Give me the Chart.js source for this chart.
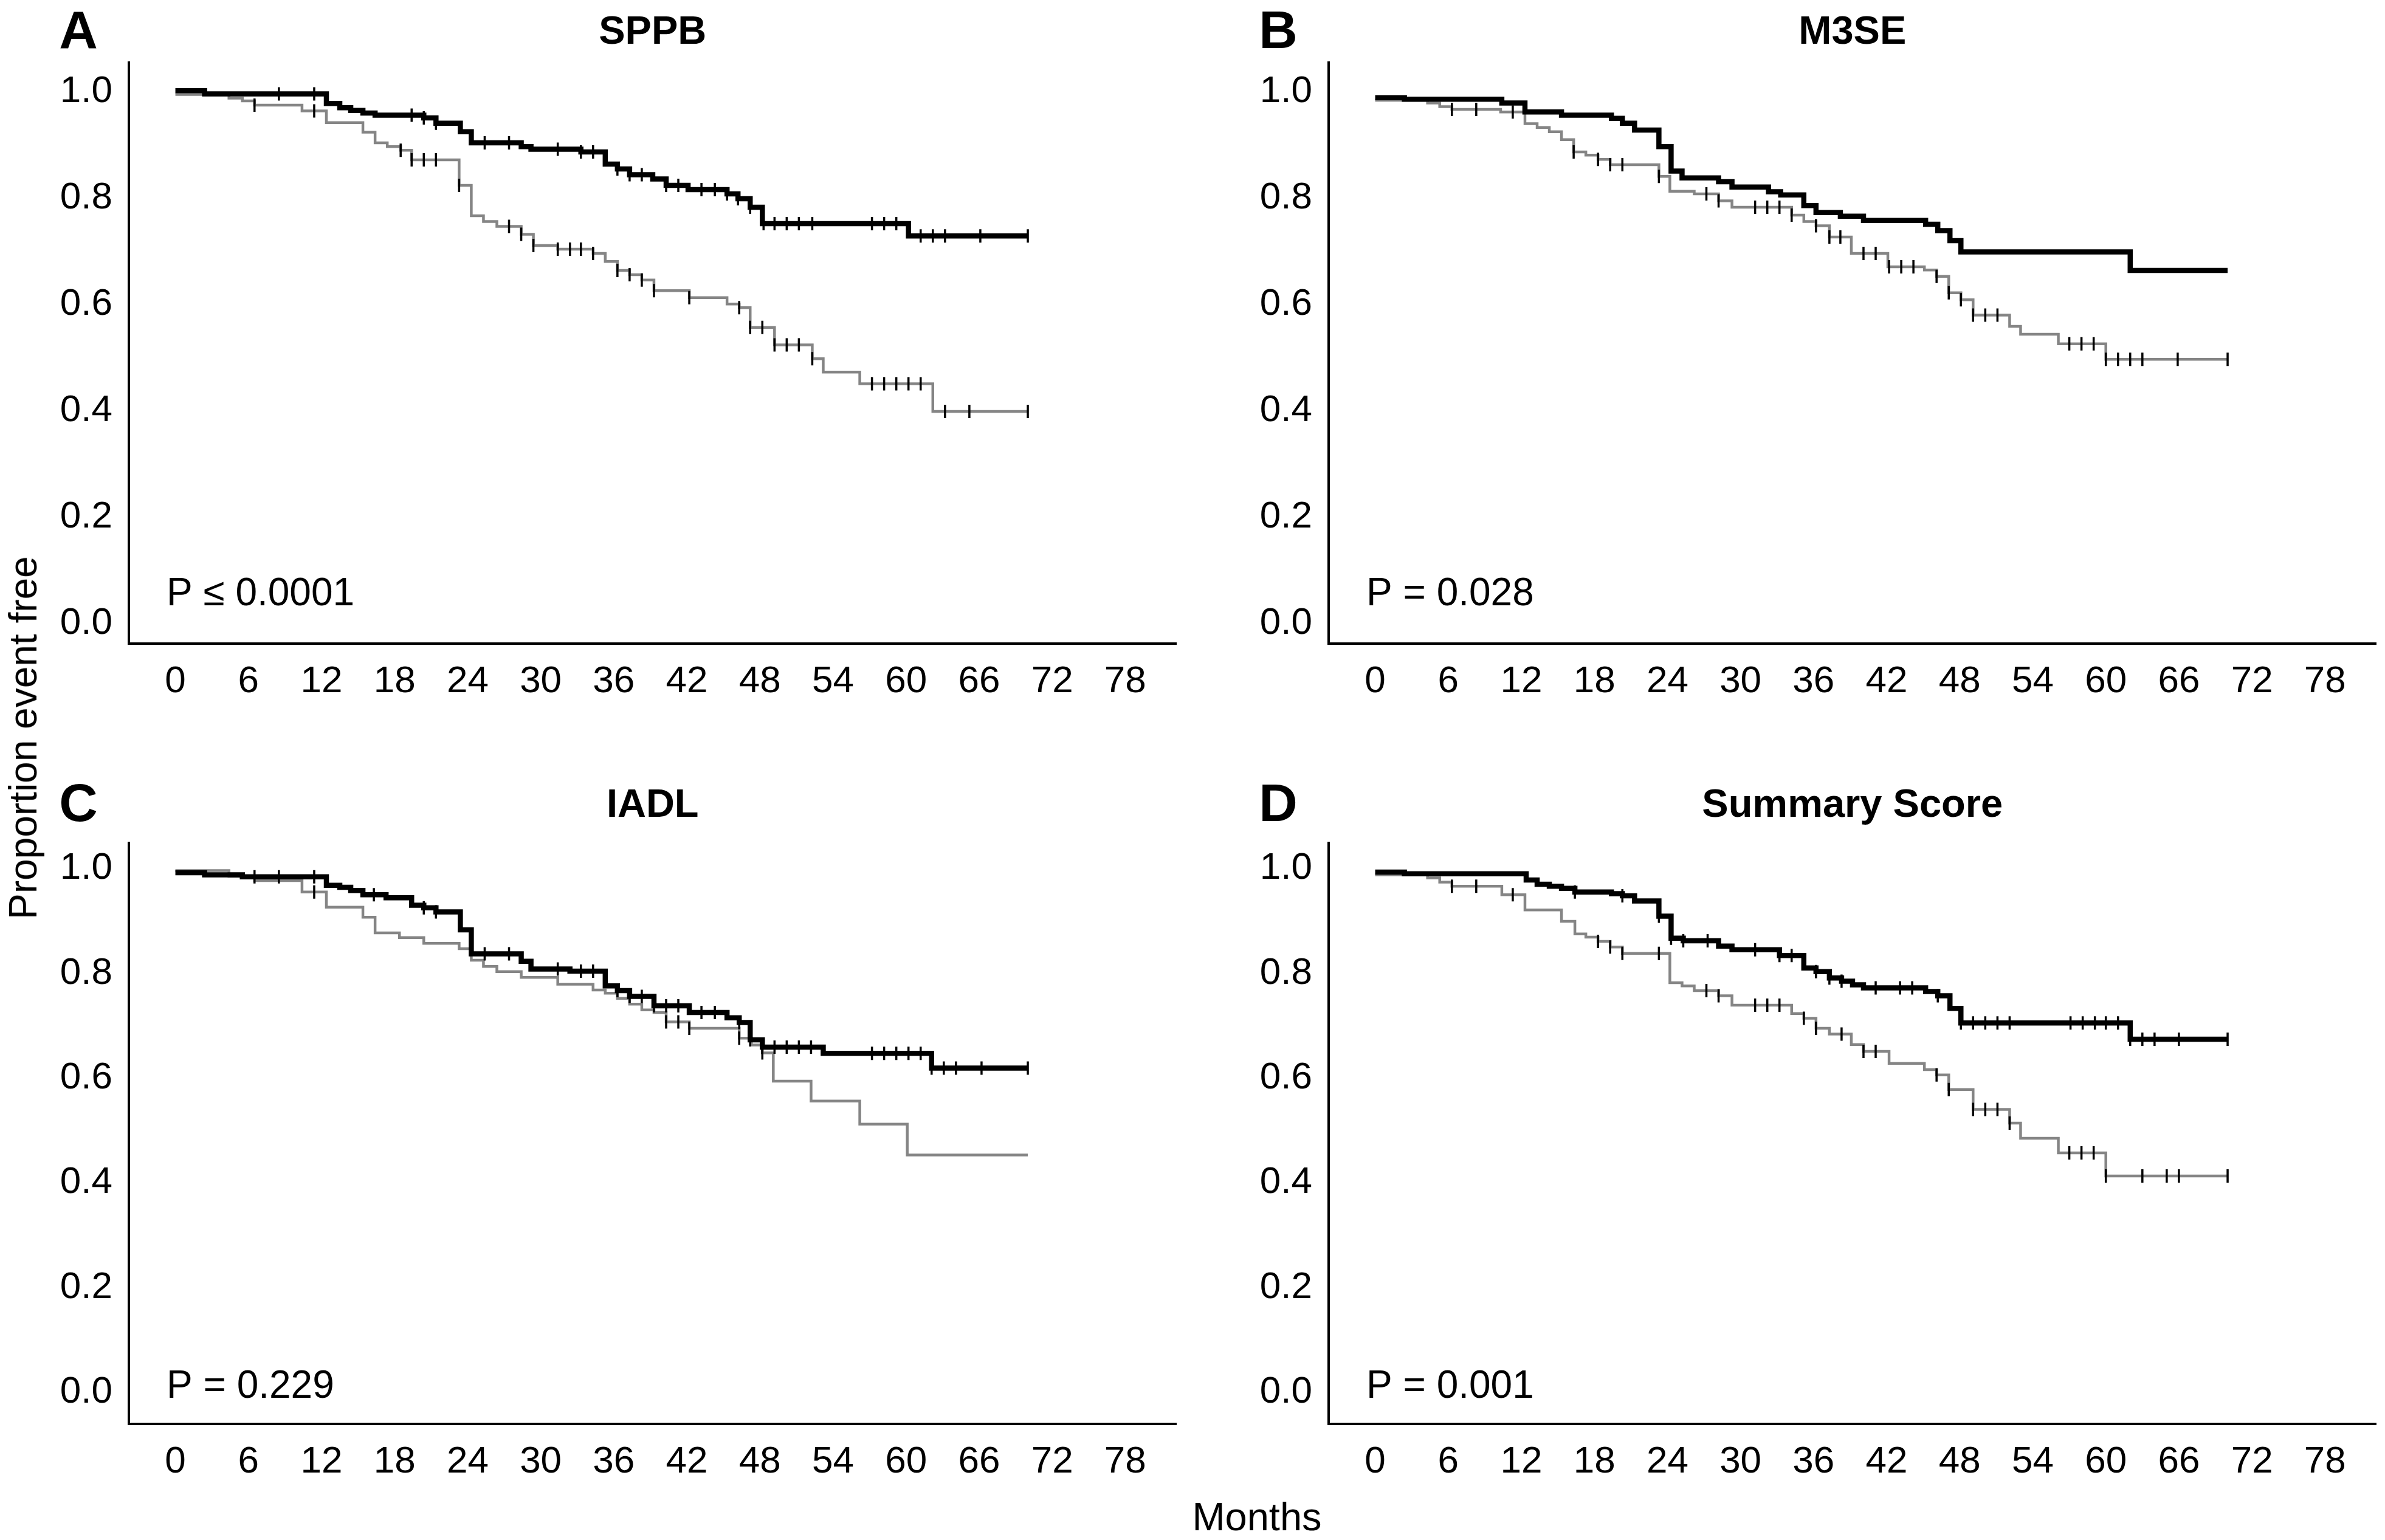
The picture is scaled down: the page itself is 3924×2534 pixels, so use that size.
<!DOCTYPE html>
<html>
<head>
<meta charset="utf-8">
<script src="https://cdn.jsdelivr.net/npm/chart.js@4/dist/chart.umd.min.js"></script>
<style>
  html, body { margin: 0; padding: 0; background: #fff; }
  #fig { position: relative; width: 3924px; height: 2534px; overflow: hidden; font-family: "Liberation Sans", Arial, sans-serif; }
  .panel { position: absolute; width: 1950px; height: 1200px; }
  #ylab { position: absolute; left: 38px; top: 1214px; font-size: 64px; line-height: 1; white-space: nowrap;
          transform: translate(-50%, -50%) rotate(-90deg); }
  #xlab { position: absolute; left: 2068px; top: 2463px; font-size: 65px; line-height: 1; white-space: nowrap;
          transform: translateX(-50%); }
</style>
</head>
<body>
<div id="fig">
  <div class="panel" style="left:0;top:0"><canvas id="pA" width="1950" height="1200"></canvas></div>
  <div class="panel" style="left:1974px;top:0"><canvas id="pB" width="1950" height="1200"></canvas></div>
  <div class="panel" style="left:0;top:1284px"><canvas id="pC" width="1950" height="1200"></canvas></div>
  <div class="panel" style="left:1974px;top:1284px"><canvas id="pD" width="1950" height="1200"></canvas></div>
  <div id="ylab">Proportion event free</div>
  <div id="xlab">Months</div>
</div>

<script>
// Ejes
const monthTicks = [0, 6, 12, 18, 24, 30, 36, 42, 48, 54, 60, 66, 72, 78];
const propTicks = [0.0, 0.2, 0.4, 0.6, 0.8, 1.0];
const lastMonth = 70;

// A - SPPB (negro = curva superior, gris = curva inferior)
const sppbHiT = [0, 2.4, 12.4, 13.5, 14.4, 15.4, 16.4, 20.4, 21.4, 23.4, 24.3, 28.4, 29.2, 33.3, 35.3, 36.3, 37.3, 39.2, 40.3, 42.1, 45.3, 46.2, 47.2, 48.2, 60.2];
const sppbHiS = [0.995, 0.989, 0.971, 0.963, 0.958, 0.953, 0.949, 0.944, 0.934, 0.918, 0.897, 0.890, 0.885, 0.880, 0.857, 0.848, 0.837, 0.829, 0.817, 0.809, 0.801, 0.792, 0.776, 0.745, 0.722];
const sppbHiCens = [8.5, 11.4, 19.4, 20.4, 21.4, 25.4, 27.4, 31.4, 33.3, 34.3, 36.3, 37.3, 38.3, 40.3, 41.3, 43.2, 44.3, 45.3, 46.2, 47.2, 48.3, 49.2, 50.2, 51.2, 52.3, 57.2, 58.2, 59.2, 61.2, 62.2, 63.2, 66.1, 70];
const sppbLoT = [0, 4.4, 5.5, 6.5, 10.4, 12.4, 15.4, 16.4, 17.4, 18.5, 19.4, 23.3, 24.3, 25.3, 26.4, 28.4, 29.4, 31.4, 34.3, 35.3, 36.3, 37.3, 38.3, 39.3, 42.2, 45.3, 46.3, 47.2, 49.2, 52.3, 53.2, 56.2, 62.2];
const sppbLoS = [0.988, 0.981, 0.976, 0.968, 0.957, 0.935, 0.917, 0.897, 0.890, 0.883, 0.865, 0.817, 0.760, 0.749, 0.740, 0.725, 0.704, 0.697, 0.689, 0.674, 0.657, 0.649, 0.639, 0.619, 0.606, 0.594, 0.587, 0.550, 0.517, 0.491, 0.466, 0.444, 0.392];
const sppbLoCens = [6.5, 11.4, 18.5, 19.4, 20.4, 21.4, 23.3, 27.4, 28.4, 29.4, 31.4, 32.4, 33.3, 34.3, 36.3, 37.3, 38.3, 39.3, 42.2, 46.3, 47.2, 48.2, 49.2, 50.2, 51.2, 52.3, 57.2, 58.2, 59.2, 60.2, 61.2, 63.2, 65.2, 70];

// B - M3SE
const m3seHiT = [0, 2.4, 10.4, 12.3, 15.3, 19.4, 20.3, 21.3, 23.3, 24.3, 25.2, 28.2, 29.3, 32.3, 33.3, 35.2, 36.2, 38.2, 40.1, 45.2, 46.2, 47.2, 48.1, 62.0];
const m3seHiS = [0.982, 0.979, 0.972, 0.955, 0.949, 0.943, 0.934, 0.921, 0.890, 0.844, 0.831, 0.824, 0.814, 0.805, 0.799, 0.779, 0.766, 0.759, 0.751, 0.744, 0.732, 0.713, 0.692, 0.657];
const m3seHiCens = [];
const m3seLoT = [0, 4.3, 5.3, 6.3, 10.3, 12.3, 13.3, 14.3, 15.3, 16.3, 17.3, 18.3, 19.3, 23.3, 24.2, 26.2, 28.2, 29.3, 34.2, 35.2, 36.2, 37.3, 39.1, 42.1, 45.1, 46.1, 47.1, 48.1, 49.1, 52.1, 53.0, 56.1, 60.0];
const m3seLoS = [0.977, 0.972, 0.965, 0.960, 0.955, 0.933, 0.926, 0.918, 0.903, 0.880, 0.874, 0.866, 0.856, 0.834, 0.806, 0.801, 0.788, 0.776, 0.761, 0.749, 0.741, 0.720, 0.689, 0.664, 0.658, 0.646, 0.615, 0.602, 0.573, 0.552, 0.537, 0.519, 0.490];
const m3seLoCens = [6.3, 8.3, 11.3, 16.3, 18.3, 19.3, 20.3, 23.3, 27.2, 28.2, 31.2, 32.2, 33.2, 34.2, 36.2, 37.3, 38.2, 40.1, 41.1, 42.2, 43.2, 44.2, 46.1, 47.1, 48.1, 49.1, 50.1, 51.1, 57.0, 58.0, 59.0, 60.0, 61.0, 62.0, 63.0, 65.9, 70];

// C - IADL
const iadlHiT = [0, 2.4, 5.5, 12.4, 13.5, 14.4, 15.4, 17.3, 19.4, 20.4, 21.4, 23.4, 24.3, 28.4, 29.2, 32.4, 35.3, 36.3, 37.3, 39.3, 42.2, 45.3, 46.3, 47.2, 48.2, 53.2, 62.1];
const iadlHiS = [0.985, 0.981, 0.977, 0.961, 0.957, 0.951, 0.943, 0.937, 0.923, 0.918, 0.910, 0.876, 0.830, 0.816, 0.801, 0.797, 0.769, 0.760, 0.749, 0.731, 0.718, 0.708, 0.699, 0.666, 0.652, 0.640, 0.612];
const iadlHiCens = [6.5, 8.5, 11.4, 16.3, 20.4, 21.4, 25.4, 27.4, 31.4, 33.3, 34.3, 36.3, 37.3, 38.3, 39.3, 40.3, 41.3, 43.2, 44.3, 46.3, 47.2, 48.2, 49.2, 50.2, 51.2, 52.2, 57.2, 58.2, 59.2, 60.2, 61.2, 62.1, 63.1, 64.1, 66.2, 70];
const iadlLoT = [0, 4.4, 6.5, 10.4, 12.4, 15.4, 16.4, 18.4, 20.4, 23.3, 24.3, 25.3, 26.4, 28.4, 31.4, 34.3, 35.3, 36.3, 37.3, 38.3, 39.3, 40.3, 42.2, 46.3, 47.3, 48.2, 49.1, 52.2, 56.2, 60.1];
const iadlLoS = [0.989, 0.978, 0.970, 0.948, 0.919, 0.900, 0.870, 0.861, 0.850, 0.840, 0.818, 0.806, 0.796, 0.785, 0.772, 0.761, 0.755, 0.745, 0.734, 0.723, 0.718, 0.700, 0.688, 0.669, 0.656, 0.641, 0.587, 0.549, 0.505, 0.446];
const iadlLoCens = [11.4, 40.3, 41.3, 42.2, 46.3, 48.2];

// D - Summary Score
const sumHiT = [0, 2.4, 12.4, 13.3, 14.3, 15.3, 16.4, 19.4, 20.3, 21.3, 23.3, 24.3, 25.3, 28.2, 29.3, 33.2, 35.2, 36.2, 37.3, 38.3, 39.2, 40.1, 45.2, 46.2, 47.2, 48.1, 62.0];
const sumHiS = [0.986, 0.983, 0.971, 0.963, 0.959, 0.955, 0.948, 0.945, 0.941, 0.931, 0.902, 0.860, 0.855, 0.845, 0.838, 0.827, 0.803, 0.796, 0.784, 0.778, 0.771, 0.765, 0.758, 0.750, 0.726, 0.698, 0.667];
const sumHiCens = [16.4, 20.3, 23.3, 24.3, 25.3, 27.3, 31.2, 33.2, 34.2, 36.2, 37.3, 38.3, 41.1, 43.1, 44.1, 46.2, 48.1, 49.1, 50.1, 51.1, 52.1, 57.1, 58.1, 59.1, 60.0, 61.0, 62.0, 63.0, 64.0, 66.0, 70];
const sumLoT = [0, 4.3, 5.3, 6.3, 10.4, 12.3, 15.3, 16.4, 17.3, 18.3, 19.3, 20.3, 24.2, 25.2, 26.2, 28.2, 29.3, 34.2, 35.2, 36.2, 37.3, 39.1, 40.1, 42.2, 45.1, 46.1, 47.1, 49.1, 52.1, 53.0, 56.1, 60.0];
const sumLoS = [0.981, 0.975, 0.967, 0.959, 0.943, 0.914, 0.892, 0.868, 0.862, 0.854, 0.843, 0.831, 0.775, 0.769, 0.760, 0.750, 0.732, 0.716, 0.707, 0.688, 0.677, 0.657, 0.644, 0.621, 0.609, 0.599, 0.571, 0.533, 0.507, 0.478, 0.450, 0.406];
const sumLoCens = [6.3, 8.3, 11.3, 18.3, 19.3, 20.3, 23.3, 27.2, 28.2, 31.2, 32.2, 33.2, 35.2, 36.2, 38.3, 40.1, 41.1, 46.1, 47.1, 49.1, 50.1, 51.1, 52.1, 57.0, 58.0, 59.0, 60.0, 63.0, 65.0, 66.0, 70];

const FONT = '"Liberation Sans", Arial, sans-serif';

// valor de la curva escalonada en el mes t
function survAt(times, surv, t) {
    let v = surv[0];
    for (let i = 0; i < times.length; i++) {
        if (times[i] <= t + 1e-9) v = surv[i];
    }
    return v;
}

function stepData(times, surv) {
    const pts = times.map((t, i) => ({ x: t, y: surv[i] }));
    pts.push({ x: lastMonth, y: surv[surv.length - 1] });
    return pts;
}

function censData(times, surv, cens) {
    return cens.map(t => ({ x: t, y: survAt(times, surv, t) }));
}

// letra, titulo y valor P de cada panel
const panelText = {
    id: 'panelText',
    afterDraw(chart, args, opts) {
        const { ctx, chartArea } = chart;
        ctx.save();
        ctx.fillStyle = '#000';
        ctx.textBaseline = 'alphabetic';
        ctx.textAlign = 'center';
        ctx.font = 'bold 88px ' + FONT;
        ctx.fillText(opts.letter, 129, 79 + opts.titleDy);
        ctx.font = 'bold 65px ' + FONT;
        ctx.fillText(opts.title, (chartArea.left + chartArea.right) / 2, 72 + opts.titleDy);
        ctx.textAlign = 'left';
        ctx.font = '64px ' + FONT;
        ctx.fillText(opts.pval, chartArea.left + 62, chartArea.bottom - opts.pRaise);
        ctx.restore();
    }
};

// fila superior y fila inferior tienen escalas Y algo distintas
const rowTop = { yMin: -0.0446, yMax: 1.048, titleDy: 0, pRaise: 63 };
const rowBottom = { yMin: -0.0673, yMax: 1.0418, titleDy: -12, pRaise: 43 };

function makePanel(id, row, letter, title, pval, hiT, hiS, hiCens, loT, loS, loCens) {
    const ctx = document.getElementById(id).getContext('2d');
    new Chart(ctx, {
        type: 'line',
        data: {
            datasets: [
                {
                    type: 'scatter', data: censData(hiT, hiS, hiCens), order: 0,
                    pointStyle: 'line', pointRotation: 90, pointRadius: 11,
                    pointBorderWidth: 3.5, pointBorderColor: '#000', showLine: false
                },
                {
                    type: 'scatter', data: censData(loT, loS, loCens), order: 1,
                    pointStyle: 'line', pointRotation: 90, pointRadius: 11,
                    pointBorderWidth: 3.5, pointBorderColor: '#000', showLine: false
                },
                {
                    data: stepData(hiT, hiS), order: 2, stepped: true,
                    borderColor: '#000', borderWidth: 8.5, pointRadius: 0,
                    borderJoinStyle: 'miter', fill: false
                },
                {
                    data: stepData(loT, loS), order: 3, stepped: true,
                    borderColor: '#858585', borderWidth: 4.5, pointRadius: 0,
                    borderJoinStyle: 'miter', fill: false
                }
            ]
        },
        options: {
            responsive: false,
            animation: false,
            devicePixelRatio: 1,
            layout: { padding: { top: 103, right: 3, left: 0, bottom: 0 } },
            scales: {
                x: {
                    type: 'linear', min: -3.82, max: 82.2,
                    afterBuildTicks: s => { s.ticks = monthTicks.map(v => ({ value: v })); },
                    afterFit: s => { s.height = 141; },
                    grid: { display: false, drawTicks: false },
                    border: { display: true, color: '#000', width: 4 },
                    ticks: { color: '#000', font: { family: FONT, size: 62 }, padding: 26, maxRotation: 0, autoSkip: false }
                },
                y: {
                    type: 'linear', min: row.yMin, max: row.yMax,
                    afterBuildTicks: s => { s.ticks = propTicks.map(v => ({ value: v })); },
                    afterFit: s => { s.width = 212; },
                    grid: { display: false, drawTicks: false },
                    border: { display: true, color: '#000', width: 4 },
                    ticks: { color: '#000', font: { family: FONT, size: 62 }, padding: 27, labelOffset: 6,
                             callback: v => v.toFixed(1) }
                }
            },
            plugins: {
                legend: { display: false },
                tooltip: { enabled: false },
                panelText: { letter: letter, title: title, pval: pval, titleDy: row.titleDy, pRaise: row.pRaise }
            }
        },
        plugins: [panelText]
    });
}

document.addEventListener('DOMContentLoaded', () => {
    makePanel('pA', rowTop, 'A', 'SPPB', 'P \u2264 0.0001', sppbHiT, sppbHiS, sppbHiCens, sppbLoT, sppbLoS, sppbLoCens);
    makePanel('pB', rowTop, 'B', 'M3SE', 'P = 0.028', m3seHiT, m3seHiS, m3seHiCens, m3seLoT, m3seLoS, m3seLoCens);
    makePanel('pC', rowBottom, 'C', 'IADL', 'P = 0.229', iadlHiT, iadlHiS, iadlHiCens, iadlLoT, iadlLoS, iadlLoCens);
    makePanel('pD', rowBottom, 'D', 'Summary Score', 'P = 0.001', sumHiT, sumHiS, sumHiCens, sumLoT, sumLoS, sumLoCens);
});
</script>
</body>
</html>
